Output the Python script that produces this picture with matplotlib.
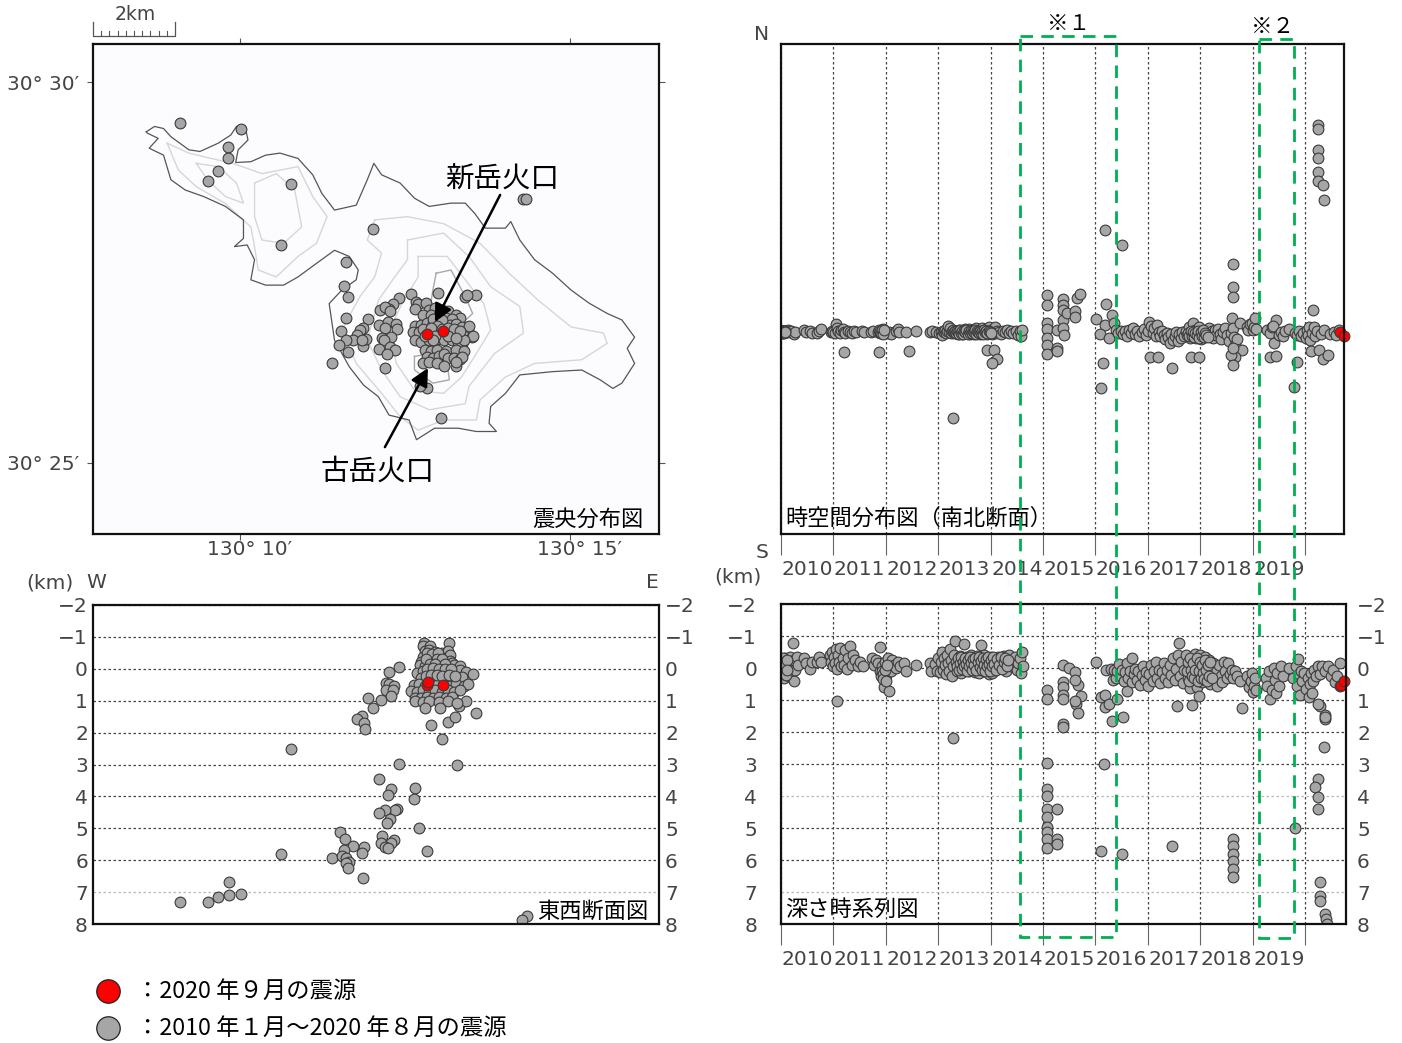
import numpy as np
import matplotlib
matplotlib.use("Agg")
import matplotlib.pyplot as plt
from matplotlib.patches import Rectangle

plt.rcParams['font.family'] = ['Noto Sans CJK JP', 'DejaVu Sans']
plt.rcParams['axes.unicode_minus'] = True

# ---- map data: km east / km north of the south-west map corner ----
coast = [(1.30,9.81),(1.50,9.94),(1.72,9.89),(1.90,9.69),(2.34,9.37),(2.61,9.33),(3.05,9.53),(3.36,9.73),(3.50,9.94),(3.72,9.89),(3.78,9.61),(3.54,9.37),(3.48,9.06),(3.85,9.08),(4.21,9.24),(4.56,9.29),(5.00,9.16),(5.36,8.76),(5.58,8.31),(5.89,7.90),(6.42,8.02),(6.69,8.64),(6.85,9.04),(7.04,8.76),(7.49,8.56),(7.84,8.19),(8.20,7.99),(8.73,8.07),(9.08,8.07),(9.31,7.82),(9.57,7.46),(10.06,7.46),(10.19,7.62),(10.41,7.17),(10.77,6.69),(11.21,6.36),(11.66,5.95),(12.10,5.63),(12.54,5.38),(12.90,5.22),(13.21,4.80),(13.03,4.53),(13.21,4.16),(12.90,3.68),(12.68,3.55),(12.37,3.76),(11.92,4.00),(11.21,3.96),(10.41,3.88),(10.06,3.43),(9.70,3.11),(9.66,2.70),(9.84,2.50),(9.35,2.50),(8.91,2.58),(8.33,2.58),(7.89,2.30),(7.71,2.78),(7.22,2.90),(6.96,3.35),(6.60,3.63),(6.25,4.08),(5.89,4.73),(5.76,5.62),(6.07,5.95),(6.42,6.20),(6.47,6.44),(6.25,6.77),(5.89,6.92),(5.45,6.60),(5.00,6.27),(4.65,6.07),(4.21,6.07),(3.85,6.20),(3.94,6.69),(3.76,7.05),(3.45,7.01),(3.67,7.21),(3.67,7.66),(3.23,7.99),(2.70,8.23),(2.25,8.39),(1.90,8.64),(1.72,9.24),(1.37,9.41),(1.59,9.65),(1.32,9.78),(1.30,9.81)]
contour_a = [(6.87,7.66),(7.67,7.74),(8.55,7.57),(9.44,7.09),(10.15,6.36),(10.86,5.70),(11.66,5.05),(12.45,4.90),(12.54,4.65),(11.92,4.25),(10.77,4.16),(10.06,3.83),(9.44,3.27),(9.35,2.78),(8.55,2.78),(7.93,2.53),(7.49,2.86),(7.04,3.43),(6.42,4.16),(6.07,4.98),(6.51,5.79),(6.87,6.27),(7.04,6.85),(6.69,7.17),(6.87,7.66)]
contour_b = [(7.67,7.17),(8.55,7.34),(9.17,6.77),(9.70,6.03),(10.41,5.55),(10.50,4.90),(9.79,4.40),(9.17,3.60),(9.08,3.18),(8.20,3.03),(7.49,3.35),(7.04,4.00),(6.69,4.73),(6.96,5.70),(7.31,6.20),(7.67,6.69),(7.67,7.17)]
contour_c = [(7.93,6.77),(8.64,6.77),(9.08,6.20),(9.53,5.62),(9.70,4.98),(9.35,4.40),(8.99,3.83),(8.55,3.43),(7.84,3.51),(7.40,4.16),(7.22,4.98),(7.58,5.70),(7.93,6.27),(7.93,6.77)]
contour_d = [(1.81,9.53),(2.34,9.29),(2.88,9.16),(3.41,9.04),(4.12,8.79),(5.00,8.96),(5.36,8.23),(5.71,7.74),(5.45,7.09),(5.00,6.77),(4.47,6.27),(4.03,6.44),(3.94,7.01),(3.85,7.49),(3.23,8.06),(2.52,8.47),(2.08,8.88),(1.81,9.53)]
contour_e = [(2.52,9.04),(3.05,8.96),(3.50,8.56),(3.67,8.07),(3.23,8.23),(2.79,8.64),(2.52,9.04)]
contour_f = [(3.94,8.56),(4.47,8.79),(4.92,8.39),(5.09,7.49),(4.65,7.09),(4.12,7.17),(3.94,7.74),(3.94,8.56)]
rim_shin = [(8.37,6.36),(8.73,6.44),(9.08,5.79),(9.26,5.38),(8.91,5.05),(8.20,5.38),(8.29,5.95),(8.37,6.36)]
rim_furu = [(7.84,4.33),(7.84,4.00),(8.29,3.68),(8.69,3.76),(8.64,4.16),(8.20,4.40),(7.84,4.33)]

map_gray = [(2.12,10.03),(3.62,9.88),(3.30,9.43),(3.30,9.16),(3.05,8.86),(2.80,8.60),(4.84,8.54),(4.58,7.06),(6.84,7.43),(6.17,6.63),(6.12,6.04),(6.23,5.79),(10.48,8.17),(10.57,8.17),(6.16,5.27),(6.06,4.96),(5.84,4.16),(7.12,4.05),(8.49,2.84),(8.15,3.55),(7.98,3.61),(7.75,5.85),(8.41,5.87),(9.08,5.79),(9.35,5.83),(9.11,5.83),
(7.47,5.75),(7.31,5.62),(7.22,5.50),(7.00,5.47),(7.13,5.53),(7.24,5.45),(6.71,5.24),(6.58,5.02),(6.51,4.98),(6.44,4.85),(6.34,4.72),(6.18,4.72),(6.01,4.61),(6.21,4.45),(6.58,4.59),(6.65,4.75),(6.56,4.72),
(6.97,5.09),(7.20,5.18),(7.12,5.02),(7.40,5.13),(7.42,4.99),(7.06,4.77),(7.28,4.80),(7.09,4.73),(6.98,4.52),(7.24,4.57),(7.36,4.50),(7.16,4.39),(7.87,5.67),(7.93,5.61),(8.11,5.63),(7.85,5.48),
(8.20,5.47),(8.35,5.51),(8.50,5.47),(8.65,5.45),(8.85,5.33),(8.95,5.28),(8.05,5.33),(8.25,5.33),(8.45,5.33),(8.60,5.28),(8.75,5.24),(7.85,5.08),(8.00,5.10),(8.15,5.15),(8.30,5.15),(8.55,5.12),(8.70,5.10),(8.85,5.12),(9.00,5.05),(9.15,4.96),(7.80,4.93),(7.95,4.92),(8.10,4.92),(8.25,4.87),(8.40,4.96),(8.60,4.92),(8.75,4.93),(8.90,4.87),(9.05,4.82),(9.25,4.81),(9.17,5.08),(9.28,4.82),(7.85,4.73),(8.00,4.69),(8.20,4.73),(8.40,4.75),(8.55,4.73),(8.75,4.72),(8.90,4.69),(9.00,4.64),(9.05,4.73),
(8.30,5.25),(8.50,5.22),(8.40,5.08),(8.05,5.00),(8.25,5.02),(8.50,5.00),(8.65,5.02),(8.80,5.00),(8.95,4.95),(8.35,4.82),(8.65,4.82),(8.10,4.82),(8.30,4.72),(8.85,4.78),
(8.10,4.48),(8.25,4.46),(8.40,4.48),(8.60,4.46),(8.85,4.48),(9.05,4.46),(8.15,4.32),(8.30,4.29),(8.45,4.35),(8.55,4.38),(8.65,4.29),(8.80,4.29),(8.95,4.27),(9.00,4.32),(8.05,4.18),(8.20,4.20),(8.40,4.18),(8.55,4.09),(8.85,4.09),(8.85,4.20)]
map_red = [(8.15,4.87),(8.53,4.94)]

# ---- east-west section: km east, depth km ----
ew_gray = [(8.08,-0.80),(8.68,-0.80),(8.06,-0.73),(8.22,-0.73),(7.46,-0.06),(7.22,0.11),(7.14,0.45),(7.23,0.47),(7.33,0.53),(7.15,0.66),(7.31,0.68),(7.26,0.86),(7.02,0.97),(6.71,0.91),(6.84,1.22),(6.57,1.47),(6.43,1.57),(6.62,1.70),(6.63,1.88),(4.84,2.50),(7.46,2.99),(8.87,3.03),(8.50,2.21),(8.24,1.75),(8.65,1.66),(8.84,1.51),(9.35,1.40),(8.93,1.18),(9.09,1.00),
(6.98,3.47),(7.27,3.77),(7.19,3.97),(7.85,3.74),(7.84,4.09),(7.41,4.41),(7.37,4.42),(7.11,4.42),(6.98,4.53),(7.24,4.72),(7.16,4.84),(7.96,5.00),(6.02,5.11),(7.06,5.24),(6.15,5.33),(7.35,5.36),(7.26,5.47),(7.03,5.47),(7.11,5.60),(7.20,5.63),(6.62,5.59),(6.33,5.57),(6.13,5.68),(6.55,5.77),(8.14,5.72),(4.58,5.81),(5.84,5.92),(6.07,5.88),(6.16,5.93),(6.24,6.07),(6.16,6.10),(6.21,6.25),(6.59,6.56),(3.31,6.69),(3.62,7.07),(3.31,7.10),(3.06,7.15),(2.81,7.30),(2.11,7.31),(10.58,7.75),(10.47,7.86),
(8.10,-0.55),(8.20,-0.60),(8.35,-0.52),(8.50,-0.50),(8.65,-0.55),(8.05,-0.38),(8.20,-0.42),(8.30,-0.35),(8.45,-0.40),(8.60,-0.35),(8.70,-0.42),(8.00,-0.22),(8.15,-0.25),(8.30,-0.20),(8.45,-0.27),(8.55,-0.20),(8.70,-0.25),(8.75,-0.18),(7.98,-0.12),(8.10,-0.08),(8.25,-0.12),(8.40,-0.06),(8.50,-0.10),(8.65,-0.05),(8.80,-0.12),(8.95,-0.08),(7.90,0.12),(8.05,0.08),(8.20,0.14),(8.35,0.05),(8.50,0.12),(8.65,0.08),(8.80,0.14),(8.95,0.05),(9.10,0.10),(9.28,0.15),(8.00,0.30),(8.15,0.26),(8.30,0.33),(8.45,0.28),(8.60,0.32),(8.75,0.26),(8.90,0.30),(9.00,0.25),(7.82,0.50),(7.95,0.47),(8.10,0.55),(8.25,0.48),(8.40,0.52),(8.55,0.46),(8.70,0.53),(8.85,0.48),(9.05,0.55),(9.15,0.47),(7.75,0.70),(7.90,0.72),(8.05,0.67),(8.20,0.73),(8.35,0.68),(8.50,0.74),(8.65,0.68),(8.80,0.72),(8.95,0.68),(7.85,0.90),(8.00,0.92),(8.15,0.87),(8.30,0.93),(8.45,0.88),(8.60,0.92),(8.75,0.87),(7.85,1.00),(8.05,1.05),(8.20,1.00),(8.45,1.03),(8.65,1.00),(8.88,1.08),(8.10,1.22),(8.46,1.24),
(8.15,-0.48),(8.28,-0.46),(8.42,-0.50),(8.12,-0.32),(8.38,-0.30),(8.52,-0.32),(8.22,-0.15),(8.35,-0.14),(8.58,-0.14),(8.15,0.02),(8.30,-0.02),(8.45,0.02),(8.58,0.00),(8.72,0.02),(8.12,0.22),(8.25,0.20),(8.38,0.18),(8.52,0.22),(8.68,0.20),(8.82,0.22)]
ew_red = [(8.14,0.52),(8.16,0.42),(8.53,0.52)]

# ---- time-space section: decimal year, km north ----
ns_gray = [(2010.00,4.93),(2010.01,4.95),(2010.02,4.91),(2010.03,4.94),(2010.04,4.92),(2010.05,4.96),(2010.06,4.92),(2010.07,4.94),(2010.08,4.92),(2010.10,4.95),(2010.12,4.93),(2010.14,4.98),(2010.17,4.92),(2010.20,4.96),(2010.24,4.89),(2010.26,4.93),(2010.43,4.97),(2010.47,4.92),(2010.56,4.95),(2010.60,4.91),(2010.68,4.90),(2010.72,4.94),(2010.76,5.00),
(2010.95,4.92),(2010.98,4.96),(2011.00,4.93),(2011.03,4.90),(2011.05,5.12),(2011.07,5.03),(2011.09,4.95),(2011.12,4.91),(2011.15,4.97),(2011.18,5.00),(2011.20,4.93),(2011.23,4.90),(2011.27,4.95),(2011.31,4.93),(2011.35,4.91),(2011.40,4.94),(2011.44,4.92),(2011.55,4.94),(2011.59,4.93),(2011.71,4.92),(2011.76,4.95),(2011.86,4.92),(2011.88,4.90),(2011.90,4.96),(2011.92,4.93),(2011.94,5.00),(2011.96,4.92),(2011.98,4.95),(2012.02,4.91),(2012.06,4.93),(2012.09,4.87),(2012.19,4.94),(2012.23,5.00),(2012.26,4.92),(2012.38,4.93),(2012.57,4.95),(2012.85,4.93),(2012.89,4.95),(2012.95,4.93),
(2013.02,4.90),(2013.05,4.93),(2013.07,4.85),(2013.09,4.96),(2013.11,4.92),(2013.13,4.98),(2013.15,4.90),(2013.17,4.94),(2013.19,5.08),(2013.21,4.92),(2013.23,5.03),(2013.25,4.90),(2013.27,4.95),(2013.29,4.98),(2013.31,4.90),(2013.33,4.94),(2013.35,4.92),(2013.37,4.88),(2013.39,4.97),(2013.41,4.91),(2013.43,4.94),(2013.45,4.87),(2013.47,4.96),(2013.49,4.92),(2013.51,4.99),(2013.53,4.90),(2013.55,4.94),(2013.57,4.92),(2013.59,5.00),(2013.61,4.89),(2013.63,4.95),(2013.65,4.92),(2013.67,4.97),(2013.69,4.88),(2013.71,4.93),(2013.73,5.02),(2013.75,4.91),(2013.77,4.96),(2013.79,4.87),(2013.81,4.94),(2013.83,5.02),(2013.85,4.90),(2013.87,4.96),(2013.89,4.92),(2013.91,5.00),(2013.93,4.88),(2013.95,4.95),(2013.97,5.05),(2013.99,4.91),(2014.01,4.97),(2014.03,4.89),(2014.05,4.94),(2014.08,5.05),(2014.10,4.90),(2014.13,4.96),(2014.16,4.92),(2014.19,4.88),(2014.23,4.95),(2014.27,4.92),(2014.31,4.97),(2014.35,4.90),(2014.39,4.94),(2014.43,4.91),(2014.48,4.96),(2014.52,4.86),(2014.56,4.94),(2014.58,4.84),(2014.60,4.97),
(2011.21,4.43),(2011.87,4.45),(2012.44,4.46),(2013.94,4.49),(2014.07,4.49),(2014.13,4.26),(2014.03,4.16),(2013.28,2.83),
(2015.07,5.83),(2015.07,5.59),(2015.07,5.15),(2015.07,5.01),(2015.07,4.77),(2015.07,4.61),(2015.07,4.39),(2015.26,4.98),(2015.26,4.53),(2015.26,4.47),(2015.39,5.72),(2015.39,5.59),(2015.39,5.46),(2015.39,5.22),(2015.39,5.02),(2015.40,4.85),(2015.46,5.38),(2015.61,5.45),(2015.62,5.30),(2015.64,5.75),(2015.71,5.85),
(2016.20,5.61),(2016.31,5.34),(2016.01,5.24),(2016.14,4.16),(2016.10,3.56),(2016.18,5.10),(2016.09,4.89),(2016.25,4.77),(2016.36,5.14),(2016.40,4.98),(2016.18,7.41),(2016.51,7.05),
(2016.44,4.90),(2016.48,4.96),(2016.52,4.88),(2016.56,4.94),(2016.60,4.84),(2016.64,4.97),(2016.68,4.90),(2016.72,5.03),(2016.76,4.88),(2016.80,4.95),(2016.84,4.82),(2016.88,4.92),(2016.92,5.00),(2016.96,4.86),(2017.00,4.94),(2017.03,5.16),(2017.06,5.08),(2017.09,4.90),(2017.12,5.02),(2017.15,4.84),(2017.18,5.10),(2017.21,4.93),(2017.24,4.82),(2017.27,4.96),(2017.30,4.86),(2017.33,4.75),(2017.36,4.90),(2017.39,4.80),(2017.42,4.66),(2017.45,4.88),(2017.48,4.74),(2017.51,4.84),(2017.54,4.93),(2017.57,4.70),(2017.60,4.88),(2017.63,4.78),(2017.66,4.92),(2017.69,4.82),(2017.72,4.96),(2017.75,4.85),(2017.78,5.06),(2017.81,4.79),(2017.84,4.92),(2017.86,5.14),(2017.88,4.85),(2017.90,4.98),(2017.92,4.78),(2017.94,4.90),(2017.96,4.82),(2017.98,5.06),(2018.00,4.87),(2018.02,4.76),(2018.04,4.92),(2018.06,4.84),(2018.08,4.96),(2018.10,4.80),(2018.13,4.90),(2018.16,5.02),(2018.19,4.83),(2018.22,4.94),(2018.25,4.78),(2018.28,4.97),(2018.31,4.86),(2018.34,5.00),(2018.37,4.88),(2018.40,4.76),(2018.44,4.93),(2018.48,5.02),(2018.52,4.85),(2018.55,4.70),(2018.58,4.90),(2018.60,5.26),(2018.62,5.02),(2018.64,4.80),(2018.66,4.62),(2018.70,4.75),(2018.76,5.14),(2018.90,5.05),(2018.92,4.98),(2018.95,5.12),(2018.98,5.14),(2019.00,4.97),(2019.02,5.05),(2019.05,5.26),(2019.07,5.00),
(2018.62,6.02),(2018.62,5.77),(2018.63,6.59),(2018.80,4.49),(2018.67,4.31),(2018.59,4.37),(2018.62,4.12),(2018.62,4.53),(2017.04,4.32),(2017.20,4.31),(2017.83,4.32),(2017.98,4.31),(2017.46,4.04),
(2019.28,4.97),(2019.33,4.90),(2019.37,5.04),(2019.41,4.65),(2019.34,4.31),(2019.44,4.34),(2019.45,5.22),(2019.38,5.07),(2019.50,4.85),(2019.55,4.93),(2019.58,4.83),(2019.62,4.96),(2019.70,5.00),(2019.80,4.90),(2019.84,4.20),(2019.79,3.59),(2019.84,4.86),(2019.88,4.96),(2019.92,4.82),(2019.97,4.90),(2020.02,4.78),(2020.04,4.97),(2020.06,4.86),(2020.08,5.05),(2020.10,4.72),(2020.11,4.47),(2020.13,4.90),(2020.15,5.46),(2020.17,5.05),(2020.19,4.82),(2020.22,4.95),(2020.27,4.49),(2020.30,4.88),(2020.34,4.28),(2020.37,4.97),(2020.44,4.37),(2020.48,4.88),(2020.55,4.93),(2020.60,4.86),(2020.64,4.98),
(2020.25,9.98),(2020.25,9.88),(2020.25,9.37),(2020.25,9.17),(2020.25,8.83),(2020.25,8.61),(2020.34,8.51),(2020.36,8.15)]
ns_swarm = [(2010.005,4.92),(2010.015,4.94),(2010.025,4.96),(2010.035,4.90),(2010.045,4.95),(2010.055,4.93),(2010.065,4.91),(2010.075,4.96),(2010.085,4.93),(2011.87,4.98),(2011.89,4.94),(2011.91,4.90),(2011.93,4.97),(2011.95,4.89),(2011.97,4.97),
(2013.30,4.93),(2013.32,4.96),(2013.34,4.90),(2013.36,4.95),(2013.38,4.92),(2013.40,4.89),(2013.42,4.97),(2013.44,4.91),(2013.46,4.94),(2013.48,4.88),(2013.50,4.95),(2013.52,4.92),(2013.54,4.97),(2013.56,4.89),(2013.58,4.94),(2013.60,4.91),(2013.62,4.96),(2013.64,4.90),(2013.66,4.94),(2013.68,4.92),(2013.70,4.97),(2013.72,4.89),(2013.74,4.95),(2013.76,4.92),(2013.78,4.90),(2013.80,4.96),(2013.82,4.91),(2013.84,4.94),(2013.86,4.89),(2013.88,4.97),(2013.90,4.92),(2013.92,4.94),(2013.94,4.90),(2013.96,4.96),(2013.98,4.93),(2014.00,4.90),
(2017.76,4.90),(2017.79,4.84),(2017.82,4.95),(2017.85,4.82),(2017.87,4.92),(2017.89,4.80),(2017.91,4.90),(2017.93,4.85),(2017.95,4.95),(2017.97,4.78),(2018.01,4.93),(2018.03,4.82),(2018.05,4.97),(2018.07,4.80),(2018.09,4.90),(2018.11,4.86),(2018.14,4.80)]
ns_red = [(2020.67,4.93),(2020.74,4.84)]

# ---- depth time series: decimal year, depth km ----
dep_gray = [(2010.00,-0.05),(2010.01,0.15),(2010.02,-0.25),(2010.03,0.05),(2010.04,-0.15),(2010.05,0.30),(2010.06,-0.10),(2010.07,0.10),(2010.08,-0.30),(2010.09,0.00),(2010.10,0.15),(2010.11,-0.20),(2010.12,0.05),(2010.14,-0.10),(2010.16,0.25),(2010.18,-0.35),(2010.20,0.10),(2010.22,-0.78),(2010.25,-0.25),(2010.25,0.40),(2010.27,0.05),(2010.30,-0.35),(2010.32,-0.10),(2010.43,-0.30),(2010.47,-0.15),(2010.56,0.02),(2010.60,-0.18),(2010.68,-0.20),(2010.72,-0.35),(2010.76,-0.20),
(2010.93,-0.40),(2010.96,-0.20),(2010.98,-0.50),(2011.00,-0.05),(2011.02,-0.35),(2011.04,-0.15),(2011.05,-0.60),(2011.07,0.02),(2011.09,-0.40),(2011.11,-0.20),(2011.13,-0.62),(2011.15,-0.05),(2011.18,-0.30),(2011.20,-0.10),(2011.22,-0.55),(2011.25,0.02),(2011.28,-0.30),(2011.32,-0.70),(2011.35,-0.10),(2011.38,-0.40),(2011.42,-0.25),(2011.46,-0.05),(2011.50,-0.20),(2011.56,-0.05),(2011.74,-0.30),(2011.78,-0.10),(2011.82,-0.25),(2011.86,-0.15),(2011.88,0.10),(2011.89,-0.65),(2011.91,0.25),(2011.93,-0.05),(2011.96,0.59),(2011.97,0.30),(2011.99,-0.20),(2012.01,0.23),(2012.03,0.05),(2012.05,-0.30),(2012.07,0.72),(2012.09,0.10),(2012.12,-0.25),(2012.16,-0.10),(2012.20,0.00),(2012.24,-0.20),(2012.28,-0.05),(2012.35,-0.15),(2012.39,0.08),(2012.57,-0.08),(2011.06,1.04),(2013.28,2.19),
(2012.84,-0.15),(2012.87,0.08),(2012.94,-0.12),(2012.97,0.10),(2013.00,-0.30),(2013.03,0.12),(2013.05,-0.20),(2013.07,-0.50),(2013.09,0.05),(2013.11,-0.30),(2013.13,-0.10),(2013.15,0.20),(2013.17,-0.40),(2013.19,-0.15),(2013.21,0.10),(2013.23,-0.60),(2013.25,-0.25),(2013.27,0.25),(2013.29,-0.05),(2013.31,-0.40),(2013.33,-0.85),(2013.35,0.10),(2013.37,-0.25),(2013.39,0.00),(2013.41,-0.38),(2013.43,0.15),(2013.45,-0.15),(2013.47,-0.30),(2013.50,-0.76),(2013.52,0.05),(2013.54,-0.35),(2013.56,-0.10),(2013.58,0.10),(2013.60,-0.25),(2013.62,-0.40),(2013.64,0.05),(2013.66,-0.15),(2013.68,-0.30),(2013.70,0.12),(2013.72,-0.05),(2013.74,-0.38),(2013.76,-0.18),(2013.78,0.15),(2013.80,-0.30),(2013.82,-0.71),(2013.84,0.05),(2013.86,-0.20),(2013.88,-0.40),(2013.90,0.10),(2013.92,-0.10),(2013.94,-0.30),(2013.96,0.20),(2013.98,-0.15),(2014.00,-0.35),(2014.02,0.15),(2014.04,-0.05),(2014.06,-0.30),(2014.08,0.05),(2014.11,-0.20),(2014.14,-0.35),(2014.17,0.00),(2014.20,-0.25),(2014.23,-0.10),(2014.26,-0.38),(2014.29,0.08),(2014.32,-0.20),(2014.35,-0.42),(2014.38,-0.05),(2014.41,-0.25),(2014.44,-0.10),(2014.47,-0.35),(2014.50,0.05),(2014.53,-0.15),(2014.56,-0.30),(2014.58,0.15),(2014.60,-0.50),(2014.62,-0.05),
(2015.07,0.70),(2015.07,0.98),(2015.08,2.97),(2015.07,3.78),(2015.07,4.00),(2015.07,4.41),(2015.07,4.66),(2015.07,4.97),(2015.07,5.13),(2015.07,5.34),(2015.07,5.63),(2015.27,4.41),(2015.27,5.34),(2015.27,5.50),(2015.39,-0.08),(2015.49,0.00),(2015.62,0.13),(2015.39,0.44),(2015.39,0.59),(2015.39,0.85),(2015.39,0.96),(2015.67,0.54),(2015.62,0.39),(2015.72,0.88),(2015.63,1.11),(2015.62,1.03),(2015.66,1.41),(2015.39,1.74),(2015.39,1.84),
(2016.01,-0.19),(2016.10,0.91),(2016.18,0.85),(2016.19,1.22),(2016.26,1.11),(2016.42,0.98),(2016.32,1.67),(2016.53,1.52),(2016.60,0.73),(2016.20,0.07),(2016.29,0.02),(2016.33,0.39),(2016.16,3.00),(2016.11,5.72),(2016.51,5.81),(2017.46,5.56),
(2016.36,0.05),(2016.39,0.30),(2016.42,0.10),(2016.45,-0.12),(2016.48,0.25),(2016.51,0.05),(2016.54,0.40),(2016.57,0.12),(2016.60,-0.15),(2016.63,0.30),(2016.66,0.08),(2016.69,0.45),(2016.70,-0.31),(2016.73,0.18),(2016.76,0.02),(2016.79,0.36),(2016.82,0.10),(2016.85,0.52),(2016.88,0.22),(2016.91,-0.05),(2016.94,0.38),(2016.97,0.12),(2017.00,0.55),(2017.03,0.20),(2017.06,-0.10),(2017.09,0.42),(2017.12,0.10),(2017.15,-0.20),(2017.18,0.30),(2017.21,0.05),(2017.24,0.48),(2017.27,0.12),(2017.30,-0.15),(2017.33,0.32),(2017.36,0.05),(2017.39,0.45),(2017.42,-0.10),(2017.45,0.22),(2017.48,-0.30),(2017.51,0.38),(2017.54,0.02),(2017.57,-0.40),(2017.59,-0.79),(2017.61,0.25),(2017.64,-0.18),(2017.67,0.48),(2017.70,0.05),(2017.73,-0.42),(2017.76,0.30),(2017.78,-0.10),(2017.80,0.62),(2017.82,0.15),(2017.84,-0.30),(2017.86,0.40),(2017.88,0.00),(2017.90,-0.45),(2017.92,0.25),(2017.94,0.58),(2017.96,-0.15),(2017.98,0.35),(2018.00,-0.40),(2018.02,0.10),(2018.04,0.45),(2018.06,-0.20),(2018.08,0.20),(2018.10,-0.35),(2018.12,0.35),(2018.14,0.05),(2018.16,-0.25),(2018.18,0.50),(2018.21,0.10),(2018.24,-0.15),(2018.27,0.35),(2018.30,0.05),(2018.33,0.55),(2018.36,-0.10),(2018.39,0.25),(2018.42,0.45),(2018.45,-0.20),(2018.48,0.10),(2018.51,0.30),(2018.54,-0.15),(2018.57,0.18),(2018.60,0.05),(2018.63,0.30),(2018.67,0.10),(2018.71,0.25),(2018.75,0.40),
(2017.55,1.18),(2017.84,1.15),(2017.97,0.88),(2018.80,1.25),(2018.63,5.34),(2018.63,5.56),(2018.63,5.81),(2018.63,6.03),(2018.63,6.28),(2018.63,6.53),(2018.90,0.25),(2018.93,0.60),(2018.96,0.40),(2018.98,0.15),(2019.00,0.75),(2019.02,0.55),(2019.04,0.30),(2019.06,0.70),
(2019.25,0.30),(2019.28,0.55),(2019.31,0.10),(2019.34,0.98),(2019.37,0.70),(2019.40,0.00),(2019.42,0.38),(2019.44,0.78),(2019.47,0.15),(2019.50,0.55),(2019.54,-0.05),(2019.58,0.25),(2019.70,0.00),(2019.78,0.30),(2019.81,5.00),(2019.83,-0.05),(2019.85,0.55),(2019.86,-0.29),(2019.88,0.20),(2019.90,0.85),(2019.92,0.10),(2019.95,0.40),(2019.98,0.15),(2020.02,0.65),(2020.05,0.30),(2020.07,0.90),(2020.09,0.50),(2020.11,0.15),(2020.13,0.78),(2020.16,0.40),(2020.18,0.05),(2020.21,0.25),(2020.24,-0.05),(2020.28,0.20),(2020.33,-0.05),(2020.38,0.10),(2020.44,-0.05),(2020.50,0.25),(2020.54,0.05),(2020.58,0.45),(2020.62,0.25),(2020.67,-0.17),
(2020.29,1.20),(2020.39,1.46),(2020.39,1.58),(2020.25,1.13),(2020.38,1.53),(2020.36,2.47),(2020.25,3.47),(2020.19,3.72),(2020.25,4.03),(2020.25,4.41),(2020.29,6.69),(2020.29,7.13),(2020.29,7.28),(2020.38,7.69),(2020.40,7.84),(2020.42,8.00)]
dep_swarm = [(2010.005,-0.20),(2010.015,0.05),(2010.025,-0.10),(2010.035,0.20),(2010.045,-0.30),(2010.055,0.00),(2010.065,-0.20),(2010.075,0.15),(2010.085,-0.12),(2010.095,0.22),(2010.105,-0.25),(2010.115,0.05),
(2011.92,0.10),(2011.94,0.20),(2011.95,0.35),(2011.98,0.05),(2012.00,0.40),(2012.02,-0.10),
(2013.34,-0.20),(2013.36,-0.05),(2013.38,-0.30),(2013.40,0.05),(2013.42,-0.15),(2013.44,-0.35),(2013.46,0.02),(2013.48,-0.20),(2013.49,-0.05),(2013.51,-0.30),(2013.53,-0.12),(2013.55,0.08),(2013.57,-0.25),(2013.59,-0.05),(2013.61,-0.35),(2013.63,-0.15),(2013.65,0.05),(2013.67,-0.28),(2013.69,-0.08),(2013.71,-0.30),(2013.73,0.05),(2013.75,-0.18),(2013.77,-0.35),(2013.79,-0.02),(2013.81,-0.22),(2013.83,0.05),(2013.85,-0.30),(2013.87,-0.10),(2013.89,0.08),(2013.91,-0.28),(2013.93,-0.05),(2013.95,-0.35),(2013.97,-0.12),(2013.99,0.08),(2014.01,-0.25),(2014.03,-0.05),(2014.05,-0.35),(2014.07,-0.12),(2014.10,0.05),(2014.13,-0.28),(2014.16,-0.10),(2014.19,-0.35),(2014.22,0.02),(2014.25,-0.20),(2014.28,-0.30),(2014.31,-0.05),(2014.34,-0.25),
(2017.74,0.10),(2017.77,-0.20),(2017.79,0.40),(2017.81,-0.30),(2017.83,0.05),(2017.85,0.25),(2017.87,-0.15),(2017.89,0.32),(2017.91,0.05),(2017.93,-0.30),(2017.95,0.40),(2017.97,0.10),(2017.99,-0.20),(2018.01,0.30),(2018.03,-0.10),(2018.05,0.15),(2018.07,0.35),(2018.09,-0.25),(2018.11,0.05),(2018.13,0.40),(2018.15,-0.10),(2018.17,0.25),(2018.19,-0.20),(2018.22,0.30)]
dep_red = [(2020.66,0.57),(2020.69,0.52),(2020.74,0.41)]

year_ticks = list(range(2010, 2021))
year_labels = [str(y) for y in range(2010, 2020)]
depth_ticks = list(range(-2, 9))
depth_labels = ['−2', '−1', '0', '1', '2', '3', '4', '5', '6', '7', '8']

# ---- layout ----
W, H = 1402, 1043
fig = plt.figure(figsize=(W/100, H/100), dpi=100, facecolor='white')

def box(x0, y0, x1, y1, **kw):
    return fig.add_axes([x0/W, 1-y1/H, (x1-x0)/W, (y1-y0)/H], **kw)

GRAY = '#a6a6a6'
EDGE = '#3a3a3a'
TXT = '#444444'
NUM = 14.5
LATIN = ['DejaVu Sans']
PX = 0.72

def dots(ax, pts, color=GRAY, z=3, clip=True):
    a = np.array(pts)
    ax.scatter(a[:, 0], a[:, 1], s=60, c=color, edgecolors=EDGE, linewidths=0.8, zorder=z, clip_on=clip)

def frame(ax, lw=1.6):
    for s in ax.spines.values():
        s.set_linewidth(lw)
        s.set_color('#111111')
        s.set_zorder(6)

# ---- map ----
am = box(93, 44, 659, 534, facecolor='#fcfcff')
am.set_xlim(0, 566/41)
am.set_ylim(0, 490/41)
for c in (contour_a, contour_b, contour_c, contour_d, contour_e, contour_f):
    a = np.array(c)
    am.plot(a[:, 0], a[:, 1], color='#d6d6d6', lw=1.0, zorder=1)
for c in (rim_shin, rim_furu):
    a = np.array(c)
    am.plot(a[:, 0], a[:, 1], color='#a8a8a8', lw=1.0, zorder=1)
a = np.array(coast)
am.plot(a[:, 0], a[:, 1], color='#555555', lw=0.9, zorder=2)
dots(am, map_gray)
dots(am, map_red, color='#ff0000', z=4)
frame(am)
lon_ticks = [147/41, 477/41]
lat_ticks = [71/41, 452/41]
am.set_xticks(lon_ticks)
am.set_xticklabels([])
am.set_yticks(lat_ticks)
am.set_yticklabels(['30° 25′', '30° 30′'], fontsize=NUM, color=TXT, family=LATIN)
am.tick_params(axis='both', length=4, width=0.8, color='#555555', top=True, right=True)
am.tick_params(axis='y', pad=6)
for lon, lab in zip(lon_ticks, ['130° 10′', '130° 15′']):
    am.annotate(lab, xy=(lon, 0), xycoords=('data', 'axes fraction'), xytext=(7, -11),
                textcoords='offset points', ha='center', va='center', fontsize=NUM, color=TXT, family=LATIN)
am.annotate('', xy=(8.34, 5.17), xytext=(9.93, 8.27), zorder=5,
            arrowprops=dict(arrowstyle='-|>', color='black', lw=1.8, mutation_scale=27, shrinkA=0, shrinkB=0))
am.annotate('', xy=(8.17, 4.05), xytext=(7.12, 2.12), zorder=5,
            arrowprops=dict(arrowstyle='-|>', color='black', lw=1.8, mutation_scale=27, shrinkA=0, shrinkB=0))
am.text(9.98, 8.65, '新岳火口', fontsize=20.5, ha='center', va='center', color='black', zorder=5)
am.text(6.95, 1.51, '古岳火口', fontsize=20.5, ha='center', va='center', color='black', zorder=5)
am.text(0.972, 0.031, '震央分布図', transform=am.transAxes, fontsize=16, ha='right', va='center', color='black', zorder=5)
# scale bar, drawn from km
am.plot([0, 0, 2, 2], [12.5, 12.15, 12.15, 12.5], color='#555555', lw=0.9, clip_on=False)
for k in np.arange(0.2, 2.0, 0.2):
    am.plot([k, k], [12.15, 12.27], color='#555555', lw=0.8, clip_on=False)
am.text(1.02, 12.68, '2km', fontsize=13.5, ha='center', va='center', color=TXT, family=LATIN, clip_on=False)

def depth_axis(ax, lpad, rpad):
    ax.set_ylim(8, -2)
    ax.set_yticks(depth_ticks)
    ax.set_yticklabels(depth_labels, fontsize=NUM, color=TXT, family=LATIN)
    ax.tick_params(axis='y', length=0, pad=lpad*PX)
    sec = ax.secondary_yaxis('right')
    sec.set_yticks(depth_ticks)
    sec.set_yticklabels(depth_labels, fontsize=NUM, color=TXT, family=LATIN)
    sec.tick_params(axis='y', length=0, pad=rpad*PX)
    sec.spines['right'].set_visible(False)
    ax.grid(axis='y', color='#444444', lw=0.9, ls=(0, (2, 2)), zorder=0)
    ax.set_axisbelow(True)

# ---- east-west section ----
ae = box(93, 605, 659, 924, facecolor='white')
ae.set_xlim(0, 566/41)
ae.set_xticks([])
depth_axis(ae, 5, 6)
ae.yaxis.get_gridlines()[9].set_color('#b8b8b8')
dots(ae, ew_gray)
dots(ae, ew_red, color='#ff0000', z=4)
frame(ae)
ae.text(0.982, 0.04, '東西断面図', transform=ae.transAxes, fontsize=16, ha='right', va='center', color='black', zorder=5)

def year_axis(ax, xmax):
    ax.set_xlim(2010, xmax)
    ax.set_xticks(year_ticks)
    ax.set_xticklabels([])
    ax.set_xticks([y + 0.5 for y in range(2010, 2020)], minor=True)
    ax.set_xticklabels(year_labels, minor=True, fontsize=NUM, color=TXT, family=LATIN)
    ax.tick_params(axis='x', which='major', length=15, width=0.8, color='#666666')
    ax.tick_params(axis='x', which='minor', length=0, pad=19)
    ax.grid(axis='x', color='#444444', lw=0.9, ls=(0, (2, 2)), zorder=0)
    ax.set_axisbelow(True)

# ---- time-space panel ----
an = box(781, 44, 1344, 534, facecolor='white')
an.set_ylim(0, 490/41)
an.set_yticks([])
year_axis(an, 2010 + 563/52.4)
dots(an, ns_gray + ns_swarm)
dots(an, ns_red, color='#ff0000', z=4, clip=False)
frame(an)
an.text(0.007, 0.033, '時空間分布図（南北断面）', transform=an.transAxes, fontsize=16, ha='left', va='center', color='black', zorder=5)

# ---- depth panel ----
ad = box(781, 604, 1346, 924, facecolor='white')
year_axis(ad, 2010 + 565/52.4)
depth_axis(ad, 24, 11)
ad.yaxis.get_gridlines()[6].set_color('#b8b8b8')
ad.yaxis.get_gridlines()[9].set_color('#b8b8b8')
dots(ad, dep_gray + dep_swarm)
dots(ad, dep_red, color='#ff0000', z=4, clip=False)
frame(ad)
ad.text(0.008, 0.044, '深さ時系列図', transform=ad.transAxes, fontsize=16, ha='left', va='center', color='black', zorder=5)

# ---- overlay: dashed boxes, legend, corner labels (page coordinates) ----
ov = fig.add_axes([0, 0, 1, 1], facecolor='none', zorder=10)
ov.set_xlim(0, W)
ov.set_ylim(H, 0)
ov.axis('off')
for x0, y0, x1, y1 in ((1020, 36, 1116, 937), (1259, 39, 1294, 938)):
    ov.add_patch(Rectangle((x0, y0), x1-x0, y1-y0, fill=False, ec='#00b050', lw=2.0, ls=(0, (4.5, 3))))
ov.text(1068, 24, '※１', fontsize=15.5, ha='center', va='center', color='black')
ov.text(1272, 27, '※２', fontsize=15.5, ha='center', va='center', color='black')
for x, y, s in ((762, 34, 'N'), (762, 552, 'S'), (50, 583, '(km)'), (96, 583, 'W'), (652, 583, 'E'), (738, 577, '(km)')):
    ov.text(x, y, s, fontsize=NUM, ha='center', va='center', color=TXT, family=LATIN)
ov.scatter([108], [991], s=285, c='#ff0000', edgecolors='#222222', linewidths=0.9)
ov.scatter([108], [1028], s=285, c=GRAY, edgecolors='#222222', linewidths=0.9)
ov.text(136, 991, '：2020 年９月の震源', fontsize=16.8, ha='left', va='center', color='black')
ov.text(136, 1028, '：2010 年１月～2020 年８月の震源', fontsize=16.8, ha='left', va='center', color='black')

fig.savefig('out.png', dpi=100, facecolor='white')
